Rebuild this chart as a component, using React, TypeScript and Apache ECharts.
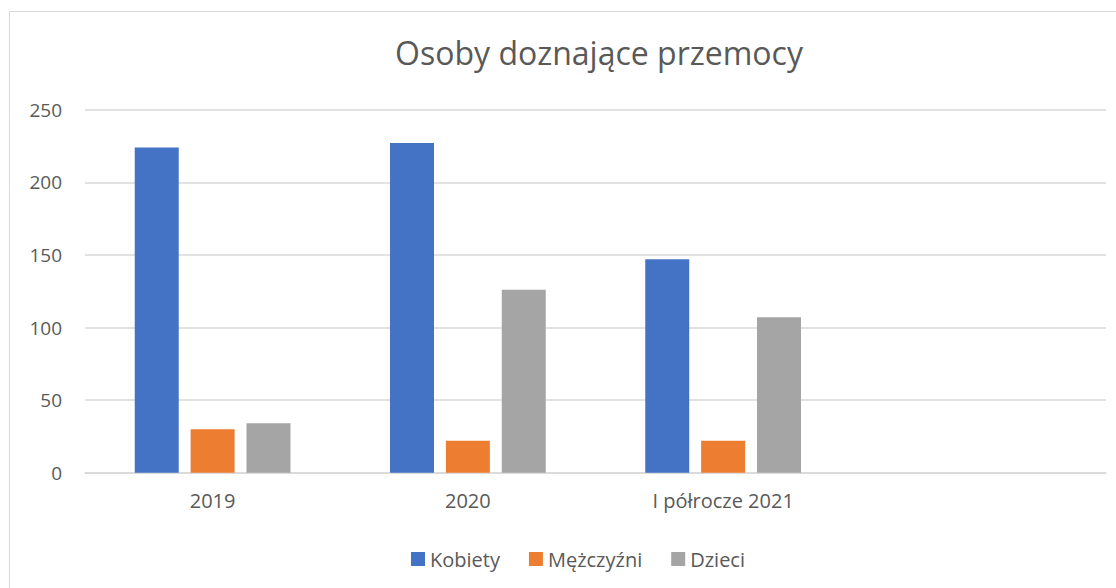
import React, { useEffect, useRef } from "react";
import * as echarts from "echarts";

const categories = ["2019", "2020", "I półrocze 2021", ""];
const kobiety = [224, 227, 147, null];
const mezczyzni = [30, 22, 22, null];
const dzieci = [34, 126, 107, null];
const seriesNames = ["Kobiety", "Mężczyźni", "Dzieci"];
const colors = ["#4472C4", "#ED7D31", "#A5A5A5"];

const FONT = "'Open Sans', 'Noto Sans', sans-serif";

export default function App() {
  const ref = useRef<HTMLDivElement>(null);
  useEffect(() => {
    if (!ref.current) return;
    const chart = echarts.init(ref.current, undefined, { renderer: "svg" });
    const data = [kobiety, mezczyzni, dzieci];
    chart.setOption({
      animation: false,
      textStyle: { fontFamily: FONT },
      graphic: [
        {
          type: "rect",
          shape: { x: 9.5, y: 11.5, width: 1300, height: 800 },
          style: { fill: "none", stroke: "#d9d9d9", lineWidth: 1 },
          silent: true,
        },
      ],
      title: {
        text: "Osoby doznające przemocy",
        left: 594,
        textAlign: "center",
        top: 31,
        textStyle: { fontFamily: FONT, fontSize: 32, fontWeight: "normal", color: "#595959" },
      },
      legend: {
        data: seriesNames,
        left: 406,
        top: 544,
        itemWidth: 14,
        itemHeight: 14,
        itemGap: 29,
        icon: "rect",
        textStyle: { fontFamily: FONT, fontSize: 20, color: "#595959" },
      },
      grid: { left: 85, right: 10, top: 109.7, bottom: 115.3, containLabel: false },
      xAxis: {
        type: "category",
        data: categories,
        axisLine: { lineStyle: { color: "#d9d9d9", width: 1.5 } },
        axisTick: { show: false },
        axisLabel: { color: "#595959", fontSize: 20, margin: 18, fontFamily: FONT },
      },
      yAxis: {
        type: "value",
        min: 0,
        max: 250,
        interval: 50,
        axisLine: { show: false },
        axisTick: { show: false },
        splitLine: { lineStyle: { color: "#d9d9d9", width: 1.5 } },
        axisLabel: { color: "#595959", fontSize: 19, margin: 23, fontFamily: FONT },
      },
      series: seriesNames.map((name, i) => ({
        name,
        type: "bar",
        data: data[i],
        barWidth: 44,
        barGap: "27%",
        itemStyle: { color: colors[i] },
      })),
    });
    return () => chart.dispose();
  }, []);
  return (
    <div
      ref={ref}
      style={{ position: "fixed", left: 0, top: 0, width: 1116, height: 588, background: "#fff" }}
    />
  );
}
